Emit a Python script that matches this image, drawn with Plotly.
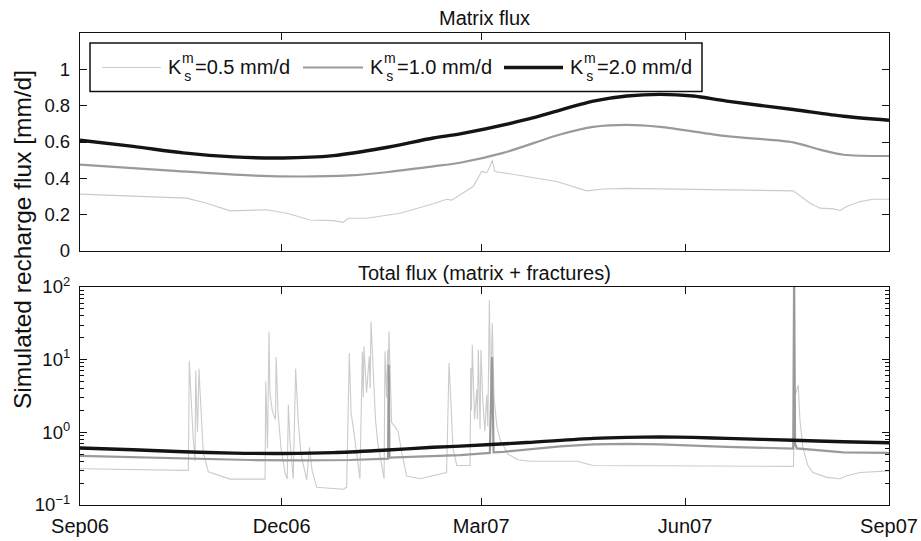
import pandas as pd
import plotly.graph_objects as go

START = pd.Timestamp("2006-09-01")

# ---------------- data (days since 1 Sep 2006, values in mm/d) ----------------
# Matrix flux (top panel)
days_k20 = [0, 24, 46.6, 69.2, 91.7, 114.3, 136.8, 159.4, 171.5, 201.5, 231.6,
            246.7, 261.7, 276.7, 291.8, 321.8, 344.4, 365]
k20 = [0.61, 0.576, 0.54, 0.518, 0.512, 0.525, 0.567, 0.622, 0.645, 0.724, 0.825,
       0.853, 0.862, 0.853, 0.825, 0.779, 0.742, 0.72]

days_k10 = [0, 39.1, 76.7, 99.3, 121.8, 139.1, 159.4, 171.5, 191.0, 216.6, 231.6,
            246.7, 261.7, 291.8, 321.8, 333.9, 344.4, 365]
k10 = [0.475, 0.444, 0.416, 0.41, 0.416, 0.435, 0.466, 0.486, 0.54, 0.641, 0.683,
       0.694, 0.683, 0.632, 0.598, 0.558, 0.53, 0.523]

days_k05 = [0, 48.1, 57.2, 67.7, 84.2, 93.3, 103.8, 114.3, 118.8, 121.0, 129.3,
            144.4, 159.4, 165.4, 167.7, 171.4, 177.4, 181.2, 183.5, 185.0, 186.0,
            187.2, 201.5, 215.1, 228.6, 236.1, 246.6, 276.7, 321.8, 329.4, 333.9,
            339.9, 342.9, 345.9, 351.9, 357.9, 365]
k05 = [0.313, 0.291, 0.263, 0.221, 0.227, 0.208, 0.171, 0.167, 0.158, 0.18, 0.18,
       0.208, 0.26, 0.285, 0.28, 0.309, 0.355, 0.438, 0.43, 0.466, 0.499,
       0.438, 0.41, 0.383, 0.331, 0.341, 0.345, 0.341, 0.331, 0.263, 0.236,
       0.232, 0.223, 0.245, 0.272, 0.285, 0.285]

# Total flux (bottom panel)
days_tot_k10 = [0, 39.1, 76.7, 99.3, 121.8, 139.0, 139.3, 139.6, 159.4, 171.5, 184.9,
                185.9, 186.6, 191.0, 216.6, 231.6, 246.7, 261.7, 291.8, 321.8,
                322.2, 322.6, 323.4, 333.9, 344.4, 365]
tot_k10 = [0.475, 0.444, 0.416, 0.41, 0.416, 0.435, 8.5, 0.45, 0.466, 0.486, 0.52,
           10.9, 0.53, 0.54, 0.641, 0.683, 0.694, 0.683, 0.632, 0.598,
           150, 0.7, 0.6, 0.558, 0.53, 0.523]

days_tot_k05 = [0, 48.9, 49.3, 50.1, 51.0, 51.9, 52.2, 53.0, 53.7, 54.1, 55.6, 57.9,
                63.2, 67.7, 83.5, 83.8, 84.6, 85.3, 85.7, 86.8, 88.2, 88.5, 89.3,
                90.7, 92.5, 93.5, 94.0, 94.7, 96.2, 97.3, 98.4, 99.7, 102.3, 103.5,
                104.7, 106.8, 118.7, 120.3, 121.5, 122.3, 123.6, 126.3, 127.4, 127.8,
                128.1, 129.3, 130.5, 130.9, 131.3, 132.3, 133.3, 134.4, 137.2, 137.6,
                138.3, 138.8, 139.1, 139.4, 140.6, 142.1, 143.6, 145.3, 147.4, 153.4,
                165.4, 166.5, 167.4, 168.3, 170.0, 176.0, 176.3, 176.6, 177.0, 178.0,
                179.0, 179.3, 179.7, 180.5, 180.9, 181.8, 182.7, 183.5, 184.0, 184.7,
                185.3, 186.0, 186.8, 188.1, 189.5, 193.1, 197.6, 203.0, 224.2, 231.5,
                321.9, 322.3, 324.1, 324.8, 326.2, 328.4, 330.7, 337.0, 342.9, 345.6,
                351.9, 365]
tot_k05 = [0.315, 0.30, 9.7, 3.0, 0.9, 0.40, 7.1, 1.0, 7.5, 4.0, 0.53, 0.286,
           0.25, 0.227, 0.227, 5.0, 0.6, 24.5, 3.5, 1.96, 1.5, 10.9, 2.0,
           0.6, 0.28, 0.227, 2.4, 0.8, 0.23, 7.5, 1.5, 0.5, 0.22, 0.62,
           0.3, 0.175, 0.165, 0.175, 12.3, 1.86, 1.0, 0.23, 13.0, 3.0,
           15.2, 3.5, 11.1, 4.0, 33.4, 5.3, 1.5, 0.7, 0.23, 13.0,
           3.0, 13.7, 5.0, 24.5, 1.36, 1.2, 1.0, 0.5, 0.25, 0.23,
           0.28, 9.0, 1.96, 0.6, 0.35, 0.35, 7.7, 2.0, 16.0, 1.5,
           3.9, 1.5, 13.7, 1.1, 13.7, 2.5, 1.04, 3.3, 1.2, 66,
           3.0, 31.8, 3.0, 1.2, 0.8, 0.5, 0.42, 0.40, 0.40, 0.35,
           0.34, 3.0, 4.5, 1.5, 0.6, 0.35, 0.28, 0.24, 0.23, 0.25,
           0.28, 0.295]

series_names = ["0.5", "1.0", "2.0"]
tick_dates = ["2006-09-01", "2006-12-01", "2007-03-01", "2007-06-01", "2007-09-01"]
tick_text = ["Sep06", "Dec06", "Mar07", "Jun07", "Sep07"]
top_ticks = [0, 0.2, 0.4, 0.6, 0.8, 1]
top_tick_text = ["0", "0.2", "0.4", "0.6", "0.8", "1"]
log_ticks = [0.1, 1, 10, 100]
log_tick_text = ["10<sup>−1</sup>", "10<sup>0</sup>", "10<sup>1</sup>", "10<sup>2</sup>"]


def to_dates(days):
    return START + pd.to_timedelta(days, unit="D")


COL = {"0.5": "#cbcbcb", "1.0": "#9a9a9a", "2.0": "#141414"}
WID = {"0.5": 1.1, "1.0": 2.2, "2.0": 3.4}
FONT = "Liberation Sans, Arial, Helvetica, sans-serif"

fig = go.Figure()
# top panel
fig.add_trace(go.Scatter(x=to_dates(days_k05), y=k05, mode="lines",
                         line=dict(color=COL["0.5"], width=WID["0.5"]),
                         xaxis="x", yaxis="y", showlegend=False))
fig.add_trace(go.Scatter(x=to_dates(days_k10), y=k10, mode="lines",
                         line=dict(color=COL["1.0"], width=WID["1.0"], shape="spline", smoothing=0.8),
                         xaxis="x", yaxis="y", showlegend=False))
fig.add_trace(go.Scatter(x=to_dates(days_k20), y=k20, mode="lines",
                         line=dict(color=COL["2.0"], width=WID["2.0"], shape="spline", smoothing=0.8),
                         xaxis="x", yaxis="y", showlegend=False))
# bottom panel
fig.add_trace(go.Scatter(x=to_dates(days_tot_k05), y=tot_k05, mode="lines",
                         line=dict(color=COL["0.5"], width=WID["0.5"]),
                         xaxis="x2", yaxis="y2", showlegend=False))
fig.add_trace(go.Scatter(x=to_dates(days_tot_k10), y=tot_k10, mode="lines",
                         line=dict(color=COL["1.0"], width=WID["1.0"]),
                         xaxis="x2", yaxis="y2", showlegend=False))
fig.add_trace(go.Scatter(x=to_dates(days_k20), y=k20, mode="lines",
                         line=dict(color=COL["2.0"], width=WID["2.0"], shape="spline", smoothing=0.8),
                         xaxis="x2", yaxis="y2", showlegend=False))

W, H = 921, 541
L, R, T, B = 80, 32, 33, 36
PW, PH = W - L - R, H - T - B


def px(xp):
    return (xp - L) / PW


def py(yp):
    return (H - B - yp) / PH


axis_common = dict(showgrid=False, zeroline=False, showline=True, linecolor="#111",
                   linewidth=1.3, mirror="allticks", ticks="inside", ticklen=7,
                   tickcolor="#111", tickwidth=1.1, automargin=False,
                   tickfont=dict(family=FONT, size=20, color="#111"))

top_dom = [py(251), 1]
bot_dom = [0, py(287)]
xr = ["2006-09-01", "2007-09-01"]

fig.update_layout(
    template="none",
    width=W, height=H, margin=dict(l=L, r=R, t=T, b=B, pad=0, autoexpand=False),
    paper_bgcolor="white", plot_bgcolor="white",
    font=dict(family=FONT, color="#111"),
    xaxis=dict(axis_common, type="date", range=xr, anchor="y", tickvals=tick_dates,
               ticktext=tick_text, showticklabels=False),
    yaxis=dict(axis_common, domain=top_dom, range=[0, 1.2], anchor="x",
               tickvals=top_ticks, ticktext=top_tick_text, ticklabelstandoff=5,
               tickfont=dict(family=FONT, size=18.5, color="#111")),
    xaxis2=dict(axis_common, type="date", range=xr, anchor="y2", tickvals=tick_dates,
                ticktext=tick_text, ticklabelstandoff=3),
    yaxis2=dict(axis_common, domain=bot_dom, type="log", range=[-1, 2], anchor="x2",
                tickvals=log_ticks, ticktext=log_tick_text, ticklabelstandoff=5,
                tickfont=dict(family=FONT, size=18.5, color="#111"),
                minor=dict(ticks="inside", ticklen=3.5, tickcolor="#111", tickwidth=1,
                           tickvals=[m * d for d in (0.1, 1, 10) for m in range(2, 10)])),
)

ann = []
# subplot titles
ann.append(dict(text="Matrix flux", x=0.5, y=1, xref="paper", yref="paper",
                xanchor="center", yanchor="bottom", yshift=2, showarrow=False,
                font=dict(family=FONT, size=20, color="#111")))
ann.append(dict(text="Total flux (matrix + fractures)", x=0.5, y=py(287), xref="paper",
                yref="paper", xanchor="center", yanchor="bottom", yshift=1, showarrow=False,
                font=dict(family=FONT, size=20, color="#111")))
# y-axis title
ann.append(dict(text="Simulated recharge flux [mm/d]", x=px(22), y=py(240), xref="paper",
                yref="paper", xanchor="center", yanchor="middle", textangle=-90,
                showarrow=False, font=dict(family=FONT, size=24.5, color="#111")))

# custom legend
shapes = [dict(type="rect", xref="paper", yref="paper", x0=px(90), x1=px(702),
               y0=py(91.5), y1=py(43), line=dict(color="#111", width=1.5),
               fillcolor="white", layer="above")]
leg_items = [(102, 161, 167), (303, 363, 369), (504, 563, 569)]
for name, (lx0, lx1, kx) in zip(series_names, leg_items):
    shapes.append(dict(type="line", xref="paper", yref="paper", x0=px(lx0), x1=px(lx1),
                       y0=py(67.5), y1=py(67.5), layer="above",
                       line=dict(color=COL[name], width=WID[name])))
    ann.append(dict(text="K", x=px(kx), y=py(67.5), xref="paper", yref="paper",
                    xanchor="left", yanchor="middle", showarrow=False, borderpad=0,
                    font=dict(family=FONT, size=20, color="#111")))
    ann.append(dict(text="m<br>s", x=px(kx + 14), y=py(67.0), xref="paper",
                    yref="paper", xanchor="left", yanchor="middle", align="center",
                    showarrow=False, borderpad=0,
                    font=dict(family=FONT, size=14, color="#111")))
    ann.append(dict(text=f"={name} mm/d", x=px(kx + 26.5), y=py(67.5), xref="paper",
                    yref="paper", xanchor="left", yanchor="middle", showarrow=False,
                    borderpad=0, font=dict(family=FONT, size=20, color="#111")))

fig.update_layout(annotations=ann, shapes=shapes)
fig.write_html("out.html", config={"displayModeBar": False},
               post_script="document.body.style.margin='0';document.body.style.padding='0';")
